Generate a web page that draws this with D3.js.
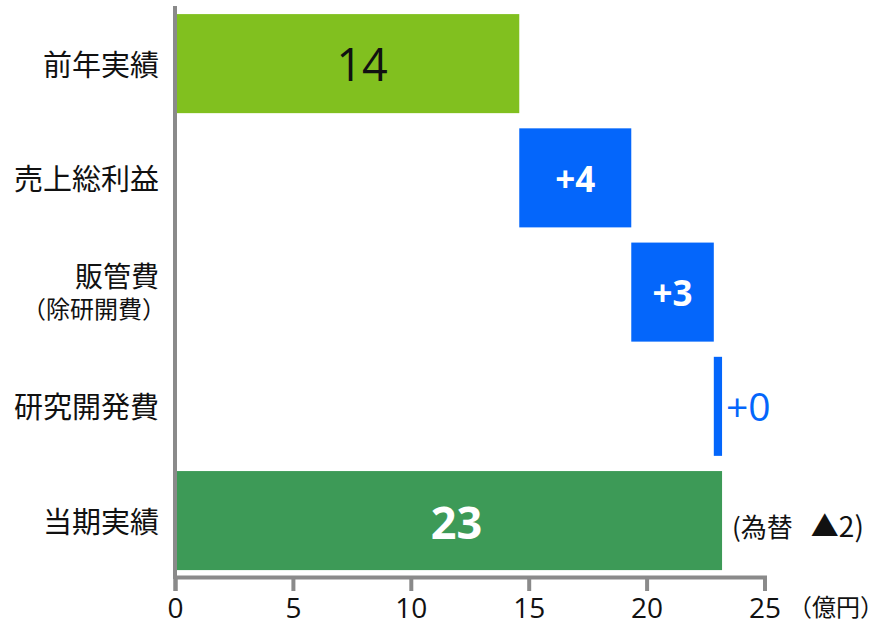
<!DOCTYPE html>
<html>
<head>
<meta charset="utf-8">
<script src="https://cdn.jsdelivr.net/npm/d3@7"></script>
<style>
  html, body { margin: 0; padding: 0; background: #fff; }
  svg { display: block; }
  text { font-family: "Noto Sans CJK JP", "Noto Sans", sans-serif; }
  .num { font-family: "Open Sans", "Noto Sans", sans-serif; }
</style>
</head>
<body>
<svg id="chart" width="881" height="624"></svg>
<script>
// ---- data ----
const categories = ["前年実績", "売上総利益", "販管費|（除研開費）", "研究開発費", "当期実績"];
const kinds = ["total", "delta", "delta", "delta", "total"];
const values = [14.6, 4.75, 3.5, 0.35, 23.2];
const valueLabels = ["14", "+4", "+3", "+0", "23"];
const xTicks = [0, 5, 10, 15, 20, 25];
const unitLabel = "（億円）";
const fxNoteA = "(為替";
const fxNoteB = "▲2)";

// ---- layout ----
const svg = d3.select("#chart");
const x = d3.scaleLinear().domain([0, 25]).range([175, 764.5]);
const y = d3.scaleBand().domain(categories).range([6.5, 577.7]).paddingInner(0.133).paddingOuter(0.0665);

// compute waterfall starts/ends
let running = 0;
const bars = categories.map((c, i) => {
  let start, end;
  if (kinds[i] === "total") { start = 0; end = values[i]; running = values[i]; }
  else { start = running; end = running + values[i]; running = end; }
  return { cat: c, start, end, kind: kinds[i], label: valueLabels[i], i };
});

const colors = ["#81c01f", "#0466fb", "#0466fb", "#0466fb", "#3d9a57"];

svg.append("g").selectAll("rect").data(bars).join("rect")
  .attr("x", d => x(d.start))
  .attr("y", d => y(d.cat))
  .attr("width", d => x(d.end) - x(d.start))
  .attr("height", y.bandwidth())
  .attr("fill", d => colors[d.i]);

// axes
const axisColor = "#8a8a8a";
const gx = svg.append("g").attr("transform", "translate(0,577)")
  .call(d3.axisBottom(x).tickValues(xTicks).tickSize(14).tickSizeOuter(14).tickFormat(d3.format("d")));
gx.selectAll("path, line").attr("stroke", axisColor).attr("stroke-width", 4);
gx.selectAll("text")
  .attr("class", "num")
  .attr("y", 0).attr("dy", null)
  .attr("transform", "translate(0,41)")
  .attr("font-size", 28).attr("fill", "#111");

svg.append("line")
  .attr("x1", x(0)).attr("x2", x(0))
  .attr("y1", 6).attr("y2", 579)
  .attr("stroke", axisColor).attr("stroke-width", 4);

// category labels
const catG = svg.append("g");
bars.forEach(d => {
  const cy = y(d.cat) + y.bandwidth() / 2;
  const parts = d.cat.split("|");
  if (parts.length === 1) {
    catG.append("text").attr("x", 159).attr("y", cy + 12)
      .attr("text-anchor", "end").attr("font-size", 29).attr("fill", "#111").text(parts[0]);
  } else {
    catG.append("text").attr("x", 159).attr("y", cy - 5)
      .attr("text-anchor", "end").attr("font-size", 28).attr("fill", "#111").text(parts[0]);
    catG.append("text").attr("x", 166).attr("y", cy + 26)
      .attr("text-anchor", "end").attr("font-size", 24).attr("fill", "#111").text(parts[1]);
  }
});

// value labels
bars.forEach(d => {
  const cy = y(d.cat) + y.bandwidth() / 2;
  const cx = (x(d.start) + x(d.end)) / 2;
  const t = svg.append("text").attr("class", "num");
  if (d.i === 0) {
    t.attr("x", cx + 15).attr("y", cy + 17).attr("text-anchor", "middle")
      .attr("font-size", 45).attr("fill", "#111").text(d.label);
  } else if (d.i === 4) {
    t.attr("x", cx + 8).attr("y", cy + 18).attr("text-anchor", "middle")
      .attr("font-size", 45).attr("font-weight", "bold").attr("fill", "#fff").text(d.label);
  } else if (d.kind === "delta" && (x(d.end) - x(d.start)) > 30) {
    t.attr("x", cx).attr("y", cy + 14).attr("text-anchor", "middle")
      .attr("font-size", 35).attr("font-weight", "bold").attr("fill", "#fff").text(d.label);
  } else {
    t.attr("x", x(d.end) + 4).attr("y", cy + 15).attr("text-anchor", "start")
      .attr("font-size", 39).attr("fill", "#0466fb").text(d.label);
  }
});

// FX note next to final bar
const last = bars[4];
const fx = svg.append("text")
  .attr("x", x(last.end) + 10).attr("y", y(last.cat) + y.bandwidth() / 2 + 16)
  .attr("font-size", 26).attr("fill", "#111");
fx.append("tspan").text(fxNoteA);
fx.append("tspan").attr("dx", 18).attr("font-size", 28).text(fxNoteB);

// unit label
svg.append("text").attr("x", 884).attr("y", 616).attr("text-anchor", "end")
  .attr("font-size", 24).attr("fill", "#111").text(unitLabel);
</script>
</body>
</html>
